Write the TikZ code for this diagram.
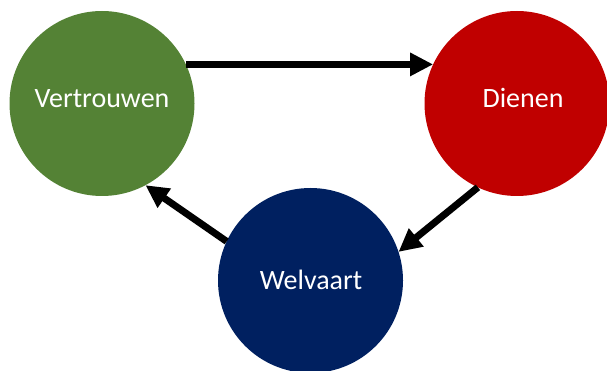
\documentclass[tikz,border=0pt]{standalone}
\usepackage{fontspec}
\setmainfont{Carlito}
\usetikzlibrary{arrows.meta}
\definecolor{cgreen}{HTML}{548235}
\definecolor{cred}{HTML}{C00000}
\definecolor{cblue}{HTML}{002060}
\begin{document}
\begin{tikzpicture}[x=1pt,y=-1pt,
  bubble/.style={circle,inner sep=0pt,outer sep=0pt,minimum size=185pt},
  word/.style={anchor=base,inner sep=0pt,text=white,font=\fontsize{28}{33}\selectfont},
  flow/.style={line width=7pt,-{Triangle[length=23pt,width=22pt]}}]
\useasboundingbox (0,0) rectangle (607,371);
\node[bubble,fill=cgreen] (v) at (102,103.5) {};
\node[bubble,fill=cred] (d) at (517,103.5) {};
\node[bubble,fill=cblue] (w) at (310.5,280.5) {};
\node[word] (vt) at (102,108) {Vertrouwen};
\node[word] (dt) at (523,108) {Dienen};
\node[word] (wt) at (311,289) {Welvaart};
\draw[flow] (v.25) -- (d.155);
\draw[flow] (d.-115) -- (w.18);
\draw[flow] (w.155) -- (v.-62);
\end{tikzpicture}
\end{document}
